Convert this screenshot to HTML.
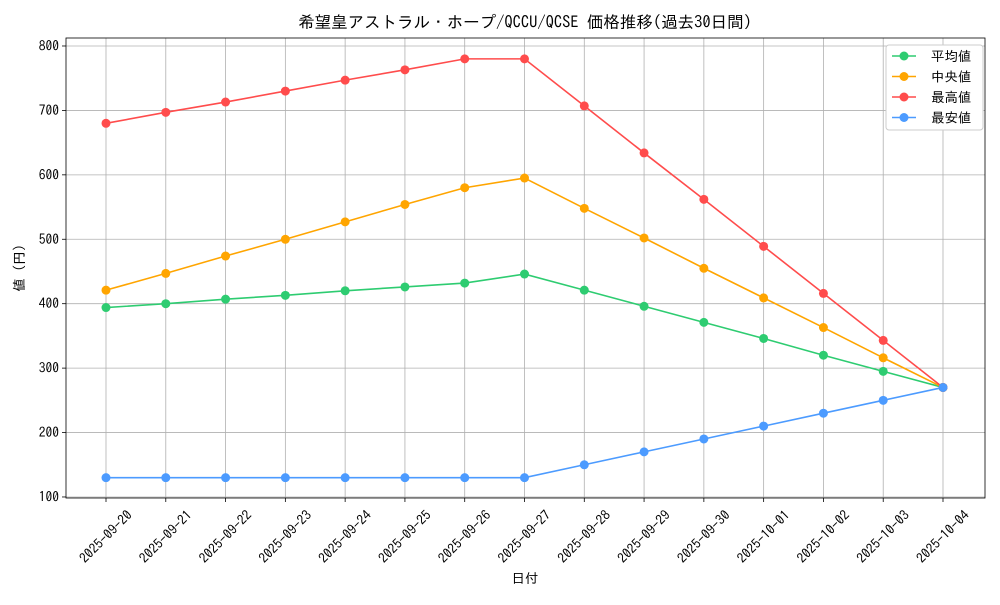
<!DOCTYPE html>
<html><head><meta charset="utf-8"><style>
body{margin:0;background:#fff}
svg{font-family:"IPAGothic","Noto Sans CJK JP",sans-serif}
</style></head><body>
<svg id="chart" width="1000" height="600" xmlns="http://www.w3.org/2000/svg"></svg>
<script>
const categories=["2025-09-20","2025-09-21","2025-09-22","2025-09-23","2025-09-24","2025-09-25","2025-09-26","2025-09-27","2025-09-28","2025-09-29","2025-09-30","2025-10-01","2025-10-02","2025-10-03","2025-10-04"];
const meanValues=[394,400,407,413,420,426,432,446,421,396,371,346,320,295,270];
const medianValues=[421,447,474,500,527,554,580,595,548,502,455,409,363,316,270];
const maxValues=[680,697,713,730,747,763,780,780,707,634,562,489,416,343,270];
const minValues=[130,130,130,130,130,130,130,130,150,170,190,210,230,250,270];
const yTicks=[100,200,300,400,500,600,700,800];
const seriesNames=["平均値","中央値","最高値","最安値"];
const seriesColors=["#2ecc71","#ffa500","#ff4c4c","#4c9bff"];
const seriesData=[meanValues,medianValues,maxValues,minValues];

const NS="http://www.w3.org/2000/svg";
const svg=document.getElementById('chart');
const L=66,R=985,T=38,B=498;
const yMin=98.4,yMax=812.4;
const x0=106,x1=943;
function xs(i){return x0+(x1-x0)*i/(categories.length-1);}
function ys(v){return B-(v-yMin)/(yMax-yMin)*(B-T);}
function el(tag,attrs,parent){const e=document.createElementNS(NS,tag);for(const k in attrs)e.setAttribute(k,attrs[k]);(parent||svg).appendChild(e);return e;}

yTicks.forEach(v=>{
  const y=ys(v);
  const g=el('line',{x1:L,x2:R,y1:y,y2:y,stroke:'#b0b0b0','stroke-width':0.8});
  
  
  el('line',{x1:L-4,x2:L,y1:y,y2:y,stroke:'#000','stroke-width':0.8});
  const t=el('text',{x:L-7,y:y+4.5,'text-anchor':'end','font-size':13.5});
  t.textContent=v;
  
  
});
categories.forEach((c,i)=>{
  const x=xs(i);
  const g=el('line',{x1:x,x2:x,y1:T,y2:B,stroke:'#b0b0b0','stroke-width':0.8});
  
  
  el('line',{x1:x,x2:x,y1:B,y2:B+4,stroke:'#000','stroke-width':0.8});
  const ax=x+27, ay=B+18;
  const t=el('text',{x:ax,y:ay,'text-anchor':'end','font-size':13.5,transform:`rotate(-45 ${ax} ${ay})`});
  t.textContent=c;
  
  
});
const frame=el('rect',{x:L,y:T,width:R-L,height:B-T,fill:'none',stroke:'#000','stroke-width':0.8});



seriesData.forEach((d,s)=>{
  const pts=d.map((v,i)=>xs(i)+','+ys(v)).join(' ');
  const pl=el('polyline',{points:pts,fill:'none',stroke:seriesColors[s],'stroke-width':1.6});
  
  
  d.forEach((v,i)=>{
    const c=el('circle',{cx:xs(i),cy:ys(v),r:4.5,fill:seriesColors[s]});
    
    
  });
});

const title=el('text',{x:525,y:28,'text-anchor':'middle','font-size':16.5});
title.textContent="希望皇アストラル・ホープ/QCCU/QCSE 価格推移(過去30日間)";


const xt=el('text',{x:525,y:583,'text-anchor':'middle','font-size':13.5});
xt.textContent="日付";


const yt=el('text',{x:24,y:268,'text-anchor':'middle','font-size':13.5,transform:'rotate(-90 24 268)'});
yt.textContent="値 (円)";



const lg=el('rect',{x:886,y:45,width:97,height:85,fill:'#fff',stroke:'#ccc',rx:3});


seriesNames.forEach((n,s)=>{
  const y=56+s*20.5;
  el('line',{x1:892,x2:916,y1:y,y2:y,stroke:seriesColors[s],'stroke-width':1.6});
  el('circle',{cx:904,cy:y,r:4.5,fill:seriesColors[s]});
  const t=el('text',{x:931,y:y+5,'font-size':13.5});
  t.textContent=n;
  
  
});
</script>
</body></html>
